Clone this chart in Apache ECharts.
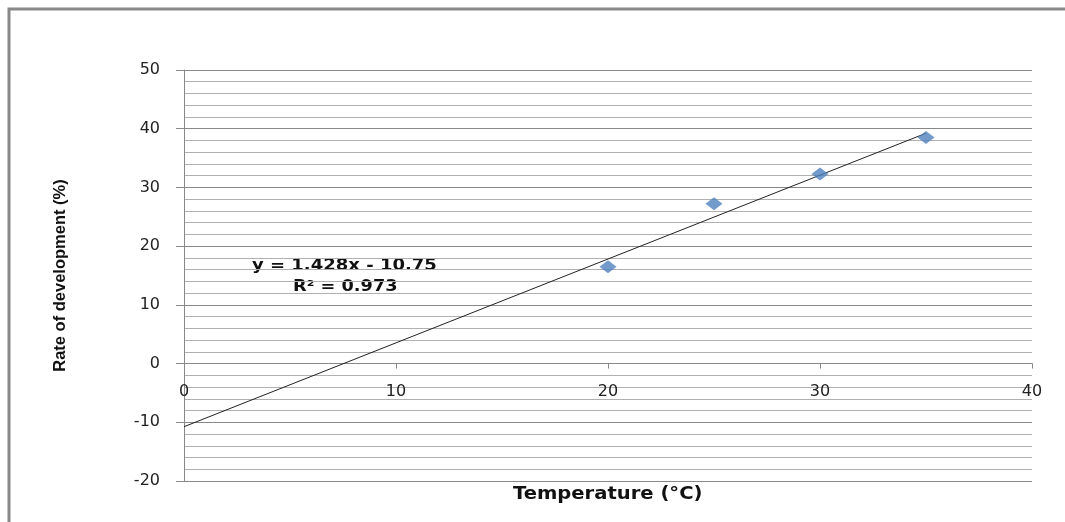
<!DOCTYPE html>
<html>
<head>
<meta charset="utf-8">
<script src="https://cdn.jsdelivr.net/npm/echarts@6/dist/echarts.min.js"></script>
<style>
  html, body { margin: 0; padding: 0; background: #fff; }
  #main { width: 1065px; height: 522px; }
</style>
</head>
<body>
<div id="main"></div>
<script>
// measured points
var temperature = [20, 25, 30, 35];
var rate = [16.5, 27.2, 32.3, 38.5];
// linear trend (from the chart label)
var trendSlope = 1.428;
var trendIntercept = -10.75;
var trendRange = [0, 35];
var eqLines = ['y = 1.428x - 10.75', 'R\u00b2 = 0.973'];

var trendData = [];
for (var i = 0; i < trendRange.length; i++) {
  trendData.push([trendRange[i], trendSlope * trendRange[i] + trendIntercept]);
}
var pts = [];
for (var i = 0; i < temperature.length; i++) {
  pts.push([temperature[i], rate[i]]);
}

var mychart = echarts.init(document.getElementById('main'));
mychart.setOption({
  animation: false,
  backgroundColor: '#fff',
  grid: { left: 184, right: 33, top: 70, bottom: 41, outerBoundsMode: 'none' },
  graphic: [
    {
      type: 'polyline',
      shape: { points: [[9, 530], [9, 9], [1070, 9]] },
      style: { stroke: '#888', lineWidth: 3, fill: null }
    },
    {
      type: 'text', x: 252, y: 266, scaleX: 1.2,
      style: { text: eqLines[0], font: 'bold 15px "DejaVu Sans"', fill: '#111', verticalAlign: 'middle' }
    },
    {
      type: 'text', x: 293, y: 287, scaleX: 1.18,
      style: { text: eqLines[1], font: 'bold 15px "DejaVu Sans"', fill: '#111', verticalAlign: 'middle' }
    },
    {
      // x axis title (placed by hand: the axis itself sits on y = 0)
      type: 'text', x: 513, y: 495, scaleX: 1.15,
      style: { text: 'Temperature (\u00b0C)', font: 'bold 17px "DejaVu Sans"', fill: '#111', verticalAlign: 'middle' }
    }
  ],
  xAxis: {
    type: 'value',
    min: 0, max: 40, interval: 10,
    axisLine: { onZero: true, lineStyle: { color: '#888', width: 1 } },
    axisTick: { show: true, length: 5, lineStyle: { color: '#888' } },
    axisLabel: { fontFamily: 'DejaVu Sans', fontSize: 16, color: '#222', margin: -97 },
    splitLine: { show: false }
  },
  yAxis: {
    type: 'value',
    min: -20, max: 50, interval: 10,
    name: 'Rate of development (%)',
    nameLocation: 'middle',
    nameGap: 115,
    nameTextStyle: { fontFamily: 'Liberation Sans', fontWeight: 'bold', fontSize: 16.5, color: '#111' },
    axisLine: { show: true, lineStyle: { color: '#888', width: 1 } },
    axisTick: { show: true, length: 8, lineStyle: { color: '#888' } },
    axisLabel: { fontFamily: 'DejaVu Sans', fontSize: 16, color: '#222', margin: 24 },
    splitLine: { show: true, lineStyle: { color: '#888', width: 1 } },
    minorTick: { show: false, splitNumber: 5 },
    minorSplitLine: { show: true, lineStyle: { color: '#b0b0b0', width: 1 } }
  },
  series: [
    {
      name: 'trend',
      type: 'line',
      data: trendData,
      symbol: 'none',
      lineStyle: { color: '#222', width: 1 },
      z: 3
    },
    {
      name: 'rate',
      type: 'scatter',
      data: pts,
      symbol: 'diamond',
      symbolSize: [17, 13],
      itemStyle: { color: '#4f81bd' },
      z: 4
    }
  ]
});
</script>
</body>
</html>
